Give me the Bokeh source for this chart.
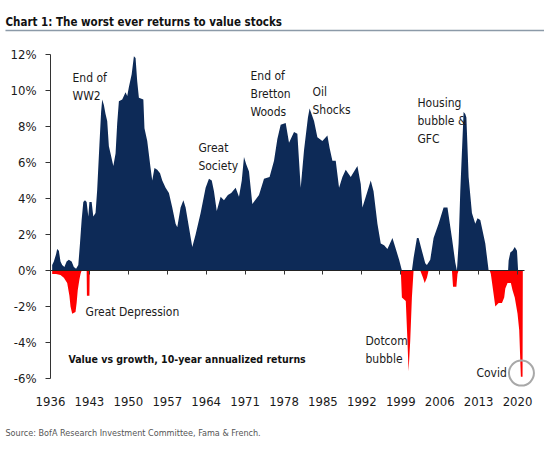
from bokeh.plotting import figure
from bokeh.models import Range1d, LinearAxis, FixedTicker, Label, Arrow
from bokeh.embed import file_html
from bokeh.resources import INLINE

# ---------------- data ----------------
blue_years = [1936.3, 1936.6, 1937.0, 1937.2, 1937.5, 1937.8, 1938.1, 1938.5, 1938.9, 1939.3,
              1939.8, 1940.2, 1940.6, 1941.0, 1941.3, 1941.6, 1941.9, 1942.2, 1942.5, 1942.8,
              1943.0, 1943.4, 1943.7, 1944.1, 1944.4, 1944.8, 1945.1, 1945.3, 1945.6, 1945.9,
              1946.2, 1946.5, 1946.8, 1947.3, 1947.7, 1948.0, 1948.3, 1948.9, 1949.5, 1949.8,
              1950.1, 1950.6, 1951.0, 1951.3, 1951.6, 1951.9, 1952.7, 1952.9, 1953.4, 1954.0,
              1954.3, 1954.7, 1955.2, 1955.7, 1956.1, 1956.7, 1957.3, 1957.9, 1958.5, 1958.8,
              1959.4, 1959.9, 1960.3, 1960.9, 1961.5, 1962.1, 1963.0, 1963.9, 1964.5, 1965.0,
              1965.4, 1965.9, 1966.6, 1967.2, 1967.9, 1968.5, 1969.3, 1969.9, 1970.4, 1970.8,
              1971.2, 1971.7, 1972.3, 1973.5, 1974.4, 1975.4, 1976.2, 1976.8, 1977.4, 1978.3,
              1978.9, 1979.8, 1980.4, 1981.0, 1981.6, 1982.3, 1982.6, 1983.4, 1984.0, 1984.9,
              1985.8, 1986.2, 1986.7, 1987.3, 1987.9, 1988.5, 1989.1, 1990.0, 1991.2, 1991.8,
              1992.1, 1992.8, 1993.6, 1994.1, 1994.8, 1995.4, 1996.0, 1996.6, 1997.5, 1998.0,
              1998.7, 1999.2, 2001.0, 2001.3, 2001.9, 2002.2, 2002.8, 2003.4, 2003.7, 2004.3,
              2004.9, 2005.8, 2006.7, 2007.4, 2008.2, 2008.8, 2009.1, 2009.4, 2009.7, 2010.3,
              2010.6, 2010.8, 2011.2, 2011.8, 2012.4, 2012.8, 2013.3, 2014.2, 2014.8, 2018.3,
              2018.4, 2018.7, 2019.1, 2019.5, 2019.9, 2020.1]
blue_values = [0.3, 0.5, 0.9, 1.2, 1.1, 0.5, 0.3, 0.2, 0.5, 0.6,
               0.5, 0.2, 0.1, 0.3, 1.5, 2.8, 3.8, 3.9, 3.8, 3.0,
               3.8, 3.8, 3.0, 3.2, 4.5, 7.0, 8.8, 9.5, 9.2, 8.7,
               8.3, 6.9, 6.5, 5.8, 6.5, 8.2, 9.4, 9.5, 9.9, 9.7,
               10.2, 10.9, 11.9, 11.8, 10.5, 9.6, 9.5, 7.9, 7.2, 5.7,
               5.0, 5.7, 5.6, 5.4, 5.0, 4.6, 4.3, 3.5, 2.6, 2.4,
               3.5, 3.9, 3.5, 2.4, 1.3, 2.0, 3.2, 4.6, 5.1, 5.0,
               4.4, 3.3, 4.1, 3.9, 4.2, 4.3, 4.6, 4.1, 5.0, 6.3,
               5.9, 5.5, 3.7, 4.2, 5.1, 5.2, 6.1, 7.3, 8.1, 8.2,
               7.1, 7.7, 7.6, 4.6, 6.7, 8.5, 9.0, 8.3, 7.4, 7.2,
               7.5, 6.8, 6.1, 6.1, 4.6, 5.2, 5.6, 5.2, 5.8, 4.8,
               3.5, 4.2, 5.0, 4.4, 2.6, 1.5, 1.4, 1.2, 1.8, 1.3,
               0.6, 0.0, 0.0, 0.7, 1.8, 1.8, 1.1, 0.4, 0.3, 0.6,
               1.8, 2.6, 3.5, 3.5, 1.8, 0.45, 0.0, 1.5, 4.4, 8.8,
               8.7, 8.5, 5.2, 3.2, 2.6, 2.9, 2.8, 1.5, 0.0, 0.0,
               0.55, 1.0, 1.1, 1.3, 1.1, 0.0]

red_years = [1936.3, 1937.0, 1937.8, 1938.4, 1939.0, 1939.4, 1939.6, 1939.9, 1940.5, 1940.7,
             1940.9, 1941.2, 1941.4, 1941.6, 1942.5, 1942.55, 1943.0, 1943.05,
             1999.0, 1999.2, 1999.9, 2000.2, 2000.4, 2000.7, 2001.0, 2001.3,
             2002.5, 2003.0, 2003.3, 2003.7, 2004.0,
             2008.2, 2008.4, 2009.0, 2009.2, 2009.4,
             2015.0, 2015.2, 2015.6, 2016.0, 2016.6, 2017.2, 2017.6, 2017.8, 2018.2, 2018.8,
             2019.1, 2019.5, 2020.0, 2020.3, 2020.6, 2020.9, 2020.95]
red_values = [-0.2, -0.2, -0.25, -0.4, -0.7, -1.4, -2.0, -2.4, -2.3, -1.8,
              -1.1, -0.5, -0.2, 0.0, 0.0, -1.4, -1.4, 0.0,
              0.0, -1.5, -1.7, -3.9, -5.6, -3.9, -1.5, 0.0,
              0.0, -0.4, -0.7, -0.4, 0.0,
              0.0, -0.9, -0.9, -0.2, 0.0,
              0.0, -0.2, -1.1, -2.0, -1.8, -1.8, -1.5, -1.0, -0.7, -0.7,
              -1.1, -1.5, -2.4, -3.3, -5.9, -5.9, 0.0]

x_ticks = [1936, 1943, 1950, 1957, 1964, 1971, 1978, 1985, 1992, 1999, 2006, 2013, 2020]
y_ticks = [-6, -4, -2, 0, 2, 4, 6, 8, 10, 12]
y_tick_labels = {v: f"{v}%" for v in y_ticks}

title_text = "Chart 1: The worst ever returns to value stocks"
subtitle_text = "Value vs growth, 10-year annualized returns"
source_text = "Source:  BofA Research Investment Committee, Fama & French."
annotations = [
    (["End of", "WW2"], 1939.96, 10.72),
    (["Great", "Society"], 1962.6, 6.83),
    (["End of", "Bretton", "Woods"], 1971.97, 10.78),
    (["Oil", "Shocks"], 1983.12, 9.89),
    (["Housing", "bubble &", "GFC"], 2002.0, 9.33),
    (["Great Depression"], 1942.3, -2.28),
    (["Dotcom", "bubble"], 1992.65, -3.94),
    (["Covid"], 2012.6, -5.67),
]

# ---------------- style ----------------
NAVY = "#0d2a57"
RED = "#ff0000"
FONT = "'DejaVu Sans Condensed', 'Liberation Sans', sans-serif"
TXT = "#1a1a1a"

# frame covers the whole canvas: 5.56 px per year, 18 px per percentage point
p = figure(width=544, height=449, output_backend="svg", toolbar_location=None,
           x_range=Range1d(1927.007, 2024.849), y_range=Range1d(-9.944, 15.0),
           x_axis_location=None, y_axis_location=None)
p.min_border = 0
p.min_border_left = 0
p.min_border_right = 0
p.min_border_top = 0
p.min_border_bottom = 0
p.outline_line_color = None
p.xgrid.visible = False
p.ygrid.visible = False
p.background_fill_color = "white"
p.border_fill_color = "white"

p.varea(x=blue_years, y1=0, y2=blue_values, fill_color=NAVY)
p.varea(x=red_years, y1=0, y2=red_values, fill_color=RED)

# Covid circle around the deepest point
i_min = red_values.index(min(red_values))
p.scatter(x=[red_years[i_min] + 0.1], y=[red_values[i_min] + 0.2], size=25, marker="circle",
          fill_color=None, line_color="#a8a8a8", line_width=2)

# y axis
yax = LinearAxis(ticker=FixedTicker(ticks=y_ticks), major_label_overrides=y_tick_labels,
                 bounds=(y_ticks[0], y_ticks[-1]), fixed_location=x_ticks[0])
yax.axis_line_color = "#333333"
yax.major_tick_line_color = "#333333"
yax.major_tick_out = 5
yax.major_tick_in = 0
yax.minor_tick_line_color = None
yax.major_label_standoff = 9
yax.major_label_text_font = FONT
yax.major_label_text_font_size = "13px"
yax.major_label_text_color = TXT
p.add_layout(yax, "left")

# x labels under the plot
xax = LinearAxis(ticker=FixedTicker(ticks=x_ticks), fixed_location=-6.5)
xax.axis_line_color = None
xax.major_tick_line_color = None
xax.minor_tick_line_color = None
xax.major_label_standoff = 3
xax.major_label_text_font = FONT
xax.major_label_text_font_size = "13px"
xax.major_label_text_color = TXT
p.add_layout(xax, "below")

# zero line with tick marks
zax = LinearAxis(ticker=FixedTicker(ticks=x_ticks), fixed_location=0,
                 bounds=(x_ticks[0], 2021.3))
zax.axis_line_color = "#222222"
zax.axis_line_width = 1.2
zax.major_tick_line_color = "#333333"
zax.major_tick_out = 4
zax.major_tick_in = 0
zax.minor_tick_line_color = None
zax.major_label_text_color = None
p.add_layout(zax, "below")

for lines, xx, yy in annotations:
    for k, line in enumerate(lines):
        p.add_layout(Label(x=xx, y=yy - k, text=line, text_font=FONT, text_font_size="12px",
                           text_color=TXT, text_baseline="middle", text_align="left"))

p.add_layout(Label(x=1939.24, y=-4.89, text=subtitle_text, text_font=FONT,
                   text_font_size="10.5px", text_font_style="bold", text_color="#111111",
                   text_baseline="middle"))

p.add_layout(Label(x=1927.9, y=13.83, text=title_text, text_font=FONT,
                   text_font_size="11.5px", text_font_style="bold", text_color="#111111",
                   text_baseline="middle"))
p.add_layout(Arrow(x_start=1927.9, y_start=13.33, x_end=2024.849, y_end=13.33, end=None,
                   line_color="#8c9aa8", line_width=1.5))
p.add_layout(Label(x=1927.9, y=-9.0, text=source_text, text_font=FONT,
                   text_font_size="9px", text_color="#555555", text_baseline="middle"))

open("out.html", "w").write(file_html(p, INLINE))
